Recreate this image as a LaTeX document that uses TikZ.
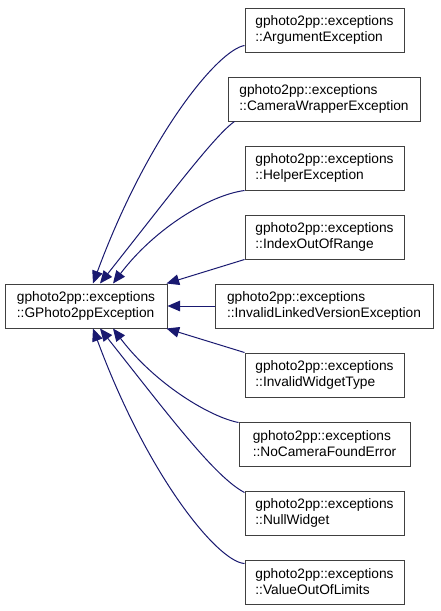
\documentclass[tikz,border=0pt]{standalone}
\usepackage{fontspec}
\setmainfont{Liberation Sans}
\usetikzlibrary{arrows.meta,calc}
\definecolor{navyedge}{HTML}{191970}
\definecolor{boxgray}{HTML}{404040}
\begin{document}
\begin{tikzpicture}[x=0.75pt,y=-0.75pt,
  box/.style={draw=boxgray, line width=0.75pt, fill=white, align=left,
    font=\fontsize{10.3}{12}\selectfont, minimum height=44*0.75pt, inner sep=0pt},
  edge/.style={draw=navyedge, line width=0.75pt,
    -{Triangle[length=9.5pt,width=8pt]}}]
\useasboundingbox[fill=white] (0,0) rectangle (440,611);

\node[box, minimum width=162*0.75pt] (base) at (86,306) {gphoto2pp::exceptions\\::GPhoto2ppException};

\node[box, minimum width=159*0.75pt] (arg) at (324.5,30) {gphoto2pp::exceptions\\::ArgumentException};
\node[box, minimum width=192*0.75pt] (cam) at (324,99) {gphoto2pp::exceptions\\::CameraWrapperException};
\node[box, minimum width=159*0.75pt] (helper) at (324.5,168) {gphoto2pp::exceptions\\::HelperException};
\node[box, minimum width=159*0.75pt] (index) at (324.5,237) {gphoto2pp::exceptions\\::IndexOutOfRange};
\node[box, minimum width=218*0.75pt] (linked) at (324,306) {gphoto2pp::exceptions\\::InvalidLinkedVersionException};
\node[box, minimum width=159*0.75pt] (widget) at (324.5,375) {gphoto2pp::exceptions\\::InvalidWidgetType};
\node[box, minimum width=171*0.75pt] (nocam) at (324.5,444) {gphoto2pp::exceptions\\::NoCameraFoundError};
\node[box, minimum width=159*0.75pt] (nullw) at (324.5,513) {gphoto2pp::exceptions\\::NullWidget};
\node[box, minimum width=159*0.75pt] (value) at (324.5,582) {gphoto2pp::exceptions\\::ValueOutOfLimits};

% upper edges
\draw[edge] ($(arg.south west)+(0,-7)$) .. controls (218,50) and (148,135) .. ($(base.north)+(7,0)$);
\draw[edge] ($(cam.south west)+(7,0)$) .. controls (215,135) and (170,195) .. ($(base.north)+(14,0)$);
\draw[edge] (helper.south west) .. controls (210,195) and (155,228) .. ($(base.north)+(27,0)$);
\draw[edge] (index.south west) -- ($(base.north east)+(-1,0)$);
\draw[edge] (linked.west) -- (base.east);
% lower edges
\draw[edge] (widget.north west) -- ($(base.south east)+(-1,0)$);
\draw[edge] ($(nocam.north west)+(0,1)$) .. controls (210,417) and (155,384) .. ($(base.south)+(27,0)$);
\draw[edge] ($(nullw.north west)+(0,2)$) .. controls (215,477) and (170,417) .. ($(base.south)+(14,0)$);
\draw[edge] ($(value.north west)+(0,4)$) .. controls (218,562) and (148,477) .. ($(base.south)+(7,0)$);
\end{tikzpicture}
\end{document}
